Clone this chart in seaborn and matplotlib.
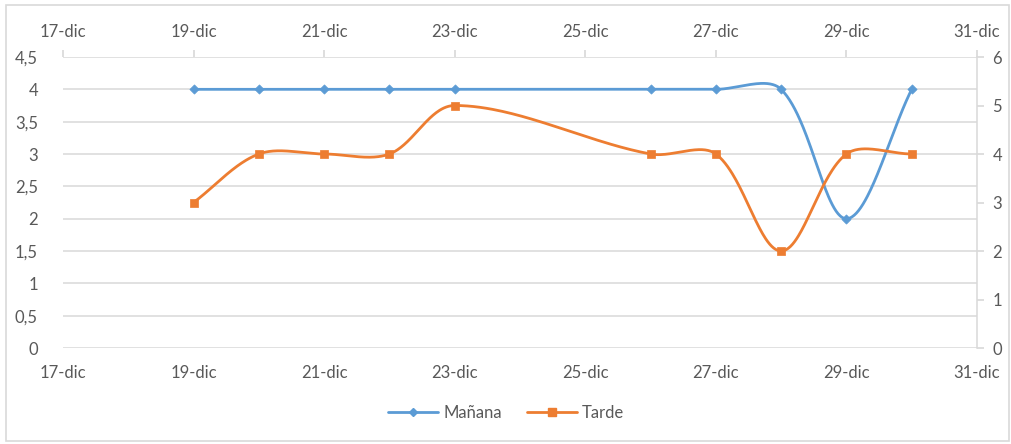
import numpy as np
import pandas as pd
import matplotlib
matplotlib.use("Agg")
import matplotlib.pyplot as plt
from matplotlib.lines import Line2D
from matplotlib.patches import Rectangle
import seaborn as sns

# December days (x positions are day-of-month)
dias = [19, 20, 21, 22, 23, 26, 27, 28, 29, 30]
manana = [4, 4, 4, 4, 4, 4, 4, 4, 2, 4]        # left axis
tarde = [3, 4, 4, 4, 5, 4, 4, 2, 4, 4]         # right axis
x_ticks = [17, 19, 21, 23, 25, 27, 29, 31]
x_labels = ["17-dic", "19-dic", "21-dic", "23-dic", "25-dic", "27-dic", "29-dic", "31-dic"]
left_ticks = [0, 0.5, 1, 1.5, 2, 2.5, 3, 3.5, 4, 4.5]
left_labels = ["0", "0,5", "1", "1,5", "2", "2,5", "3", "3,5", "4", "4,5"]
right_ticks = [0, 1, 2, 3, 4, 5, 6]

AZUL = "#5B9BD5"
NARANJA = "#ED7D31"
GRIS_TXT = "#595959"
GRIS_LIN = "#d9d9d9"
FS = 12


def suavizar(eje, xs, ys, n=60):
    """Smoothed line through the points: cubic Bezier segments whose control
    points follow the neighbour direction, scaled by on-screen segment length."""
    pts = eje.transData.transform(np.column_stack([xs, ys]).astype(float))
    m = len(pts)
    out = []
    for i in range(m - 1):
        p1, p2 = pts[i], pts[i + 1]
        p0 = pts[i - 1] if i > 0 else p1
        p3 = pts[i + 2] if i + 2 < m else p2
        d01 = np.hypot(*(p1 - p0))
        d12 = np.hypot(*(p2 - p1))
        d23 = np.hypot(*(p3 - p2))
        c1 = p1 + (p2 - p0) * d12 / (3.0 * (d01 + d12))
        c2 = p2 - (p3 - p1) * d12 / (3.0 * (d12 + d23))
        t = np.linspace(0, 1, n, endpoint=(i == m - 2))[:, None]
        seg = ((1 - t) ** 3) * p1 + 3 * ((1 - t) ** 2) * t * c1 + 3 * (1 - t) * t ** 2 * c2 + t ** 3 * p2
        out.append(seg)
    datos = eje.transData.inverted().transform(np.vstack(out))
    return pd.DataFrame({"x": datos[:, 0], "y": datos[:, 1]})


sns.set_theme(style="white")
plt.rcParams["font.family"] = ["Lato", "DejaVu Sans"]
plt.rcParams["font.size"] = FS

fig = plt.figure(figsize=(10.12, 4.44), dpi=100)
ax = fig.add_axes([63 / 1012, 1 - 348 / 444, (977 - 63) / 1012, (348 - 57) / 444])
ax2 = ax.twinx()

ax.set_xlim(17, 31)
ax.set_ylim(0, 4.5)
ax2.set_xlim(17, 31)
ax2.set_ylim(0, 6)

# outer chart frame
fig.patches.append(Rectangle((6 / 1012, 3 / 444), 1003 / 1012, 436 / 444,
                             transform=fig.transFigure, fill=False,
                             edgecolor=GRIS_LIN, linewidth=1.2))

# left axis: Mañana
curva_m = suavizar(ax, dias, manana)
sns.lineplot(data=curva_m, x="x", y="y", sort=False, estimator=None, ax=ax,
             color=AZUL, linewidth=2.0, zorder=3)
sns.scatterplot(x=dias, y=manana, ax=ax, marker="D", s=22, color=AZUL,
                edgecolor=AZUL, linewidth=0.5, zorder=4)

# right axis: Tarde
curva_t = suavizar(ax2, dias, tarde)
sns.lineplot(data=curva_t, x="x", y="y", sort=False, estimator=None, ax=ax2,
             color=NARANJA, linewidth=2.0, zorder=3)
sns.scatterplot(x=dias, y=tarde, ax=ax2, marker="s", s=38, color=NARANJA,
                edgecolor=NARANJA, linewidth=0.5, zorder=4)

ax.set_xlim(17, 31)
ax.set_ylim(0, 4.5)
ax2.set_ylim(0, 6)

ax.set_yticks(left_ticks)
ax.set_yticklabels(left_labels)
ax2.set_yticks(right_ticks)
ax.set_xticks(x_ticks)
ax.set_xticklabels(x_labels)

for a in (ax, ax2):
    a.set_xlabel("")
    a.set_ylabel("")
    for s in a.spines.values():
        s.set_visible(False)

ax.yaxis.grid(True, color=GRIS_LIN, linewidth=1.1)
ax.set_axisbelow(True)
ax.xaxis.grid(False)
ax2.grid(False)

ax.tick_params(axis="y", left=False, pad=12, labelcolor=GRIS_TXT, labelsize=FS)
ax.tick_params(axis="x", bottom=False, top=True, labeltop=True, labelbottom=True,
               direction="out", length=5, color=GRIS_LIN, pad=7,
               labelcolor=GRIS_TXT, labelsize=FS)
ax2.spines["right"].set_visible(True)
ax2.spines["right"].set_color(GRIS_LIN)
ax2.spines["right"].set_linewidth(1.1)
ax2.tick_params(axis="y", right=True, direction="out", length=5, color=GRIS_LIN,
                pad=6, labelcolor=GRIS_TXT, labelsize=FS)

handles = [
    Line2D([], [], color=AZUL, linewidth=2.0, marker="D", markersize=4.5),
    Line2D([], [], color=NARANJA, linewidth=2.0, marker="s", markersize=6),
]
fig.legend(handles, ["Mañana", "Tarde"], loc="center", bbox_to_anchor=(0.5, 1 - 413 / 444),
           ncol=2, frameon=False, fontsize=FS, labelcolor=GRIS_TXT,
           handlelength=3.0, columnspacing=1.5, handletextpad=0.3)

fig.savefig("out.png", dpi=100)
